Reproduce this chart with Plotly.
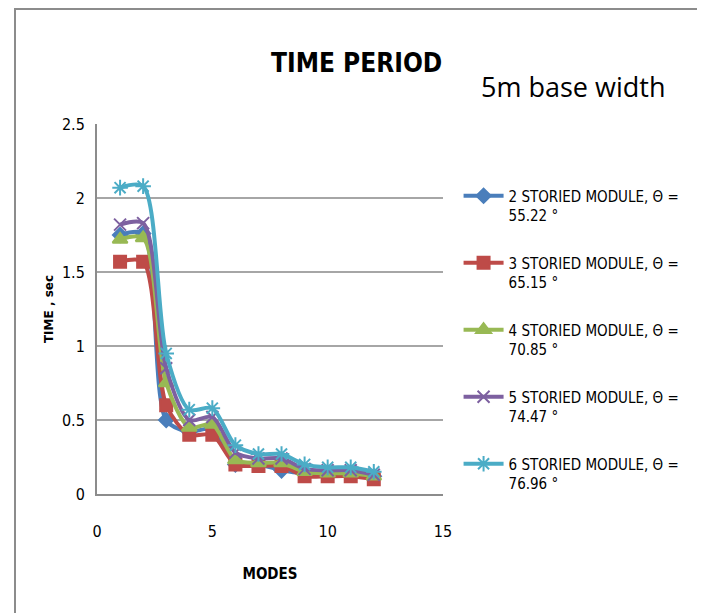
import plotly.graph_objects as go

modes = [1, 2, 3, 4, 5, 6, 7, 8, 9, 10, 11, 12]
series_names = [
    "2 STORIED MODULE, Θ =<br>55.22 °",
    "3 STORIED MODULE, Θ =<br>65.15 °",
    "4 STORIED MODULE, Θ =<br>70.85 °",
    "5 STORIED MODULE, Θ =<br>74.47 °",
    "6 STORIED MODULE, Θ =<br>76.96 °",
]
t_2storey = [1.75, 1.76, 0.50, 0.42, 0.44, 0.20, 0.20, 0.16, 0.14, 0.14, 0.14, 0.12]
t_3storey = [1.57, 1.57, 0.60, 0.40, 0.40, 0.20, 0.19, 0.19, 0.12, 0.12, 0.12, 0.10]
t_4storey = [1.72, 1.73, 0.75, 0.45, 0.47, 0.23, 0.21, 0.21, 0.15, 0.14, 0.14, 0.12]
t_5storey = [1.82, 1.83, 0.85, 0.50, 0.52, 0.28, 0.24, 0.24, 0.17, 0.16, 0.16, 0.13]
t_6storey = [2.07, 2.08, 0.95, 0.57, 0.58, 0.33, 0.27, 0.27, 0.20, 0.18, 0.18, 0.15]

all_series = [t_2storey, t_3storey, t_4storey, t_5storey, t_6storey]
colors = ["#4A7EBB", "#BE4B48", "#98B954", "#7D60A0", "#4BACC6"]
symbols = ["diamond", "square", "triangle-up", "x-thin", "asterisk"]
sizes = [11, 12, 13, 12, 13]

narrow = "DejaVu Sans Condensed, sans-serif"

fig = go.Figure()
for i, ys in enumerate(all_series):
    fig.add_trace(go.Scatter(
        x=modes, y=ys, name=series_names[i], mode="lines+markers",
        line=dict(color=colors[i], width=4, shape="spline", smoothing=0.8),
        marker=dict(symbol=symbols[i], size=sizes[i], color=colors[i],
                    line=dict(color=colors[i], width=2)),
        legendgroup=str(i),
    ))

# outer chart frame
fig.add_shape(type="rect", xref="paper", yref="paper",
              x0=-0.237, x1=1.743, y0=-0.4, y1=1.311,
              line=dict(color="#8c8c8c", width=2))

fig.add_annotation(text="<b>TIME PERIOD</b>", xref="paper", yref="paper",
                   x=0.751, y=1.165, xanchor="center", yanchor="middle", showarrow=False,
                   font=dict(family=narrow, size=26, color="black"))
fig.add_annotation(text="5m base width", xref="paper", yref="paper",
                   x=1.376, y=1.1, xanchor="center", yanchor="middle", showarrow=False,
                   font=dict(family="Open Sans, sans-serif", size=27, color="black"))

fig.update_layout(
    width=705, height=613,
    margin=dict(l=89, r=270, t=116, b=127),
    plot_bgcolor="white", paper_bgcolor="white",
    showlegend=True,
    legend=dict(x=1.045, y=0.85, xanchor="left", yanchor="top", valign="top",
                font=dict(family=narrow, size=15, color="black"),
                tracegroupgap=25, itemwidth=40,
                bgcolor="rgba(0,0,0,0)"),
    xaxis=dict(range=[0, 15], tickvals=[0, 5, 10, 15], showgrid=False,
               showline=True, linecolor="#8c8c8c", linewidth=2,
               zeroline=False, ticks="", ticklabelstandoff=22,
               tickfont=dict(family=narrow, size=16, color="black"),
               title=dict(text="<b>MODES</b>", standoff=28,
                          font=dict(family=narrow, size=15, color="black"))),
    yaxis=dict(range=[0, 2.5], tickvals=[0, 0.5, 1, 1.5, 2, 2.5],
               showgrid=True, gridcolor="#a6a6a6", gridwidth=2,
               showline=True, linecolor="#8c8c8c", linewidth=2,
               zeroline=False, ticks="", ticklabelstandoff=7,
               tickfont=dict(family=narrow, size=16, color="black"),
               title=dict(text="<b>TIME , sec</b>", standoff=6,
                          font=dict(family="DejaVu Sans, sans-serif", size=12, color="black"))),
)

fig.write_html("out.html")
